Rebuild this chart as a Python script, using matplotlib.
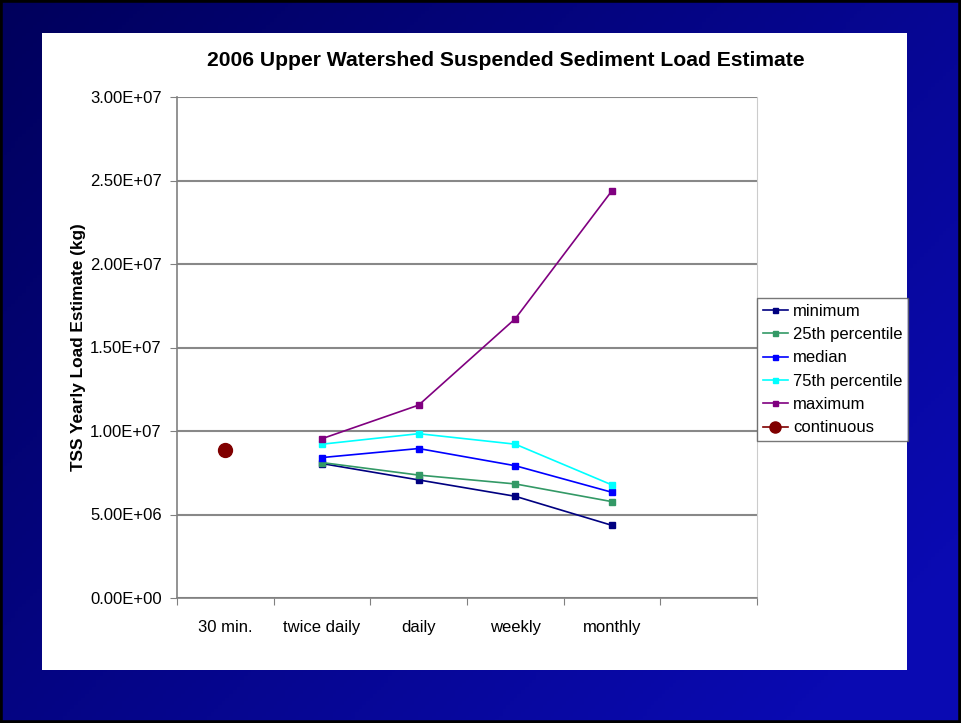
import numpy as np
import matplotlib.pyplot as plt
from matplotlib.patches import Rectangle

plt.rcParams['font.family'] = ['Liberation Sans', 'DejaVu Sans']

categories = ["30 min.", "twice daily", "daily", "weekly", "monthly", ""]
freq_x = [1, 2, 3, 4]
minimum = [8.05e6, 7.07e6, 6.09e6, 4.35e6]
p25 = [8.11e6, 7.36e6, 6.83e6, 5.77e6]
median = [8.41e6, 8.95e6, 7.92e6, 6.33e6]
p75 = [9.21e6, 9.84e6, 9.21e6, 6.77e6]
maximum = [9.54e6, 11.55e6, 16.73e6, 24.39e6]
continuous_x = [0]
continuous = [8.87e6]

series = [
    ("minimum", minimum, '#000080'),
    ("25th percentile", p25, '#339966'),
    ("median", median, '#0000ff'),
    ("75th percentile", p75, '#00ffff'),
    ("maximum", maximum, '#800080'),
]

fig = plt.figure(figsize=(9.61, 7.23), dpi=100)

# slide background: blue gradient, darker at top-left
bg = fig.add_axes([0, 0, 1, 1])
h, w = 200, 260
yy, xx = np.mgrid[0:h, 0:w]
xn = xx / (w - 1)
yn = yy / (h - 1)
t = np.clip(0.65 * xn + 0.45 * yn, 0, 1)
img = np.zeros((h, w, 3))
img[..., 0] = 0.0 + 0.04 * t
img[..., 1] = 0.0 + 0.04 * t
img[..., 2] = 0.36 + 0.34 * t
bg.imshow(img, aspect='auto', extent=[0, 1, 0, 1], origin='upper')
bg.set_xlim(0, 1)
bg.set_ylim(0, 1)
bg.axis('off')
bg.add_patch(Rectangle((0, 0), 1, 1, fill=False, ec='black', lw=4))
bg.add_patch(Rectangle((42 / 961, 1 - 670 / 723), 865 / 961, 637 / 723,
                       fc='white', ec='none'))

ax = fig.add_axes([177 / 961, 1 - 598 / 723, 580 / 961, 501 / 723])
ax.set_facecolor('white')

for name, vals, col in series:
    ax.plot(freq_x, vals, color=col, lw=1.2, marker='s', markersize=4.5,
            label=name)
ax.plot(continuous_x, continuous, color='#800000', lw=1.2, marker='o',
        markersize=10, linestyle='-', label="continuous")

ax.set_xlim(-0.5, 5.5)
ax.set_ylim(0, 3e7)
ax.set_yticks(np.arange(0, 3.01e7, 5e6))
ax.set_yticklabels(["%.2E" % v for v in np.arange(0, 3.01e7, 5e6)], fontsize=12)
ax.yaxis.grid(True, color='#888888', lw=1.5)
ax.set_axisbelow(True)

ax.set_xticks(np.arange(-0.5, 5.6, 1))
ax.set_xticklabels([])
ax.set_xticks(range(6), minor=True)
ax.set_xticklabels(categories, minor=True, fontsize=12)
ax.tick_params(axis='x', which='major', direction='out', length=5,
               color='#808080')
ax.tick_params(axis='x', which='minor', length=0, pad=16)
ax.tick_params(axis='y', direction='out', length=5, color='#808080', pad=6)

for side in ['left', 'bottom']:
    ax.spines[side].set_color('#808080')
    ax.spines[side].set_linewidth(1.2)
ax.spines['right'].set_color('#cccccc')
ax.spines['top'].set_visible(False)

ax.set_ylabel("TSS Yearly Load Estimate (kg)", fontsize=12.4,
              fontweight='bold', labelpad=3)
fig.text(506 / 961, 1 - 61 / 723,
         "2006 Upper Watershed Suspended Sediment Load Estimate",
         ha='center', va='center', fontsize=15.2, fontweight='bold')

leg = ax.legend(loc='upper left', bbox_to_anchor=(757 / 961, 1 - 298 / 723),
                bbox_transform=fig.transFigure, fontsize=12, frameon=True,
                fancybox=False, edgecolor='#555555', borderpad=0.35,
                labelspacing=0.5, handlelength=1.5, handletextpad=0.3,
                borderaxespad=0, markerscale=0.8)
leg.get_frame().set_linewidth(1.0)

fig.savefig("out.png", dpi=100)
